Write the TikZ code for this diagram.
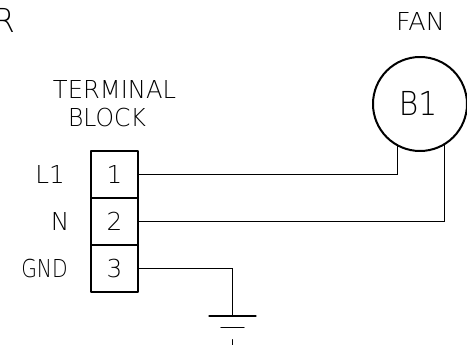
\documentclass[tikz,border=0pt]{standalone}
\usepackage{fontspec}
\setmainfont{DejaVu Sans ExtraLight}
\tikzset{
  wire/.style={line width=1.3pt,black,line cap=round},
  heavy/.style={line width=2pt,black,line join=round},
  cell/.style={rectangle,draw,heavy,minimum width=47pt,minimum height=47pt,inner sep=0pt,outer sep=0pt},
  motor/.style={circle,draw,heavy,minimum size=94pt,inner sep=0pt,outer sep=0pt},
  lbl/.style={inner sep=0pt,outer sep=0pt,anchor=base,font=\fontsize{24.7pt}{24.7pt}\selectfont},
  big/.style={inner sep=0pt,outer sep=0pt,anchor=base,font=\fontsize{33pt}{33pt}\selectfont},
}
\begin{document}
\begin{tikzpicture}[x=1pt,y=-1pt]
\useasboundingbox (0,0) rectangle (467,345);
\clip (0,0) rectangle (467,345);
\fill[white] (0,0) rectangle (467,345);
\node[cell] (t1) at (114.5,174.5) {};
\node[cell] (t2) at (114.5,221.5) {};
\node[cell] (t3) at (114.5,268.5) {};
\node[motor] (fan) at (420,104) {};
\node[big,xscale=.95] (rr) at (4,33) {R};
\node[lbl,xscale=.98] (term) at (114.5,99) {TERMINAL};
\node[lbl,xscale=.95] (blk) at (107,127) {BLOCK};
\node[lbl,xscale=1.03] (fant) at (420.5,31) {FAN};
\node[big,xscale=.9] (b1) at (418,116) {B1};
\node[lbl] (l1) at (50,184) {L1};
\node[lbl] (n) at (60,231) {N};
\node[lbl,xscale=.82] (gnd) at (44.5,278) {GND};
\node[lbl] (d1) at (114.5,184) {1};
\node[lbl] (d2) at (114.5,231) {2};
\node[lbl] (d3) at (114.5,278) {3};
\coordinate (g) at (232.5,316);
\coordinate (gl1) at (209,316);
\coordinate (gr1) at (256,316);
\coordinate (gl2) at (221,327.5);
\coordinate (gr2) at (244,327.5);
\coordinate (gt) at (232.5,339.7);
\coordinate (gb) at (232.5,346);
\draw[wire] (t1.east) -| (fan.241);
\draw[wire] (t2.east) -| (fan.301);
\draw[wire] (t3.east) -| (g);
\draw[wire] (gl1) -- (gr1);
\draw[wire] (gl2) -- (gr2);
\draw[wire] (gt) -- (gb);
\end{tikzpicture}
\end{document}
